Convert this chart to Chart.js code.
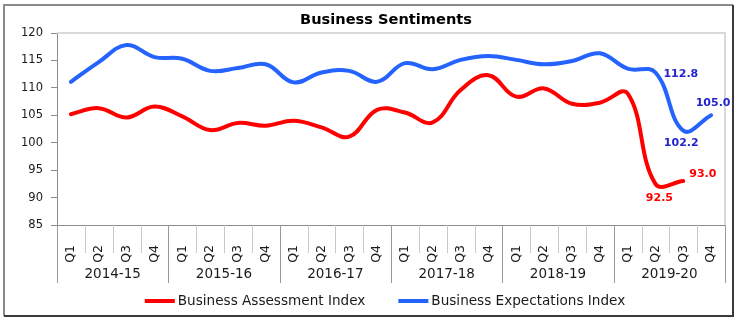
<!DOCTYPE html>
<html>
<head>
<meta charset="utf-8">
<title>Business Sentiments</title>
<script src="https://cdn.jsdelivr.net/npm/chart.js@4.4.1/dist/chart.umd.min.js"></script>
<style>
  body { margin: 0; background: #fff; }
  canvas { display: block; }
</style>
</head>
<body>
<canvas id="myChart" width="738" height="323"></canvas>
<script>
const chartTitle = "Business Sentiments";
const years = ["2014-15", "2015-16", "2016-17", "2017-18", "2018-19", "2019-20"];
const quarters = ["Q1", "Q2", "Q3", "Q4"];

const assessmentIndex = [105.2, 106.3, 104.6, 106.6, 104.8, 102.3, 103.6, 103.1,
  104.0, 102.8, 101.1, 106.0, 105.5, 103.7, 109.6, 112.3,
  108.4, 109.9, 107.1, 107.3, 109.0, 92.5, 93.0, null];
const expectationsIndex = [111.1, 114.7, 117.8, 115.6, 115.3, 113.1, 113.6, 114.3,
  111.0, 112.8, 113.1, 111.1, 114.5, 113.4, 115.1, 115.8,
  115.1, 114.3, 114.9, 116.3, 113.5, 112.8, 102.2, 105.0];

const yTicks = { min: 85, max: 120, step: 5 };

// one tick per quarter, grouped by year underneath
const labels = years.flatMap(() => quarters);

// value labels: dataset -> { point index: [dx, dy, align] }
const valueLabels = [
  { color: "#ff0000", at: { 21: [4, 14, "center"], 22: [6, -7, "left"] } },
  { color: "#2323cf", at: { 21: [8, 2, "left"], 22: [-2, 12, "center"], 23: [2, -12, "center"] } }
];

Chart.defaults.font.family = "'DejaVu Sans', Verdana, sans-serif";
Chart.defaults.color = "#1a1a1a";

const decorations = {
  id: "decorations",
  beforeDraw(chart) {
    const ctx = chart.ctx;
    ctx.save();
    ctx.fillStyle = "#fff";
    ctx.fillRect(0, 0, chart.width, chart.height);
    ctx.restore();
  },
  beforeDatasetsDraw(chart) {
    // light frame on top / right of plot area
    const ctx = chart.ctx, a = chart.chartArea;
    ctx.save();
    ctx.strokeStyle = "#d9d9d9";
    ctx.lineWidth = 2;
    ctx.beginPath();
    ctx.moveTo(a.left, a.top);
    ctx.lineTo(a.right, a.top);
    ctx.lineTo(a.right, a.bottom);
    ctx.stroke();
    ctx.restore();
  },
  afterDatasetsDraw(chart) {
    const ctx = chart.ctx;
    ctx.save();
    ctx.font = "bold 11px 'DejaVu Sans'";
    ctx.textBaseline = "middle";
    valueLabels.forEach((st, d) => {
      const meta = chart.getDatasetMeta(d);
      const values = chart.data.datasets[d].data;
      ctx.fillStyle = st.color;
      Object.keys(st.at).forEach(k => {
        const i = +k, [dx, dy, align] = st.at[k];
        const pt = meta.data[i];
        ctx.textAlign = align;
        ctx.fillText(values[i].toFixed(1), pt.x + dx, pt.y + dy);
      });
    });
    ctx.restore();
  },
  afterDraw(chart) {
    const ctx = chart.ctx, a = chart.chartArea, x = chart.scales.x;
    const step = (x.right - x.left) / labels.length;
    ctx.save();

    // separators under the axis
    ctx.lineWidth = 1;
    for (let i = 0; i <= labels.length; i++) {
      const px = Math.round(x.left + i * step) + 0.5;
      const isYear = i % quarters.length === 0;
      ctx.strokeStyle = isYear ? "#9a9a9a" : "#c8c8c8";
      ctx.beginPath();
      ctx.moveTo(px, a.bottom);
      ctx.lineTo(px, a.bottom + (isYear ? 58 : 28));
      ctx.stroke();
    }

    // year labels
    ctx.fillStyle = "#1a1a1a";
    ctx.font = "13.5px 'DejaVu Sans'";
    ctx.textAlign = "center";
    ctx.textBaseline = "middle";
    years.forEach((yr, g) => {
      const x0 = x.getPixelForValue(g * 4), x1 = x.getPixelForValue(g * 4 + 3);
      ctx.fillText(yr, (x0 + x1) / 2, a.bottom + 49);
    });

    // title
    ctx.font = "bold 14.6px 'DejaVu Sans'";
    ctx.fillStyle = "#000";
    ctx.fillText(chartTitle, 386, 20);

    // legend
    ctx.font = "13.6px 'DejaVu Sans'";
    ctx.textAlign = "left";
    const ds = chart.data.datasets;
    const boxW = 30, gap = 3, spacing = 33, ly = 301;
    const widths = ds.map(d => boxW + gap + ctx.measureText(d.label).width);
    let lx = 385 - (widths[0] + widths[1] + spacing) / 2;
    ds.forEach((d, i) => {
      ctx.fillStyle = d.borderColor;
      ctx.fillRect(lx, ly - 2, boxW, 4);
      ctx.fillStyle = "#1a1a1a";
      ctx.fillText(d.label, lx + boxW + gap, ly);
      lx += widths[i] + spacing;
    });

    // outer frame
    ctx.lineWidth = 2;
    ctx.strokeStyle = "#8a8a8a";
    ctx.beginPath();
    ctx.moveTo(4, 316); ctx.lineTo(4, 5); ctx.lineTo(733, 5);
    ctx.stroke();
    ctx.strokeStyle = "#3a3a3a";
    ctx.beginPath();
    ctx.moveTo(733, 5); ctx.lineTo(733, 316); ctx.lineTo(4, 316);
    ctx.stroke();
    ctx.restore();
  }
};

const ctx = document.getElementById("myChart").getContext("2d");
const chart = new Chart(ctx, {
  type: "line",
  data: {
    labels: labels,
    datasets: [
      {
        label: "Business Assessment Index",
        data: assessmentIndex,
        borderColor: "#ff0000",
        backgroundColor: "#ff0000",
        borderWidth: 4,
        tension: 0.4,
        pointRadius: 0,
        borderCapStyle: "round"
      },
      {
        label: "Business Expectations Index",
        data: expectationsIndex,
        borderColor: "#2563ff",
        backgroundColor: "#2563ff",
        borderWidth: 4,
        tension: 0.4,
        pointRadius: 0,
        borderCapStyle: "round"
      }
    ]
  },
  options: {
    responsive: false,
    animation: false,
    devicePixelRatio: 1,
    layout: { padding: { top: 33, left: 8, right: 13, bottom: 40 } },
    plugins: {
      legend: { display: false },
      title: { display: false },
      tooltip: { enabled: false }
    },
    scales: {
      x: {
        offset: true,
        grid: { display: false, drawTicks: false },
        border: { display: true, color: "#8c8c8c", width: 1 },
        ticks: {
          autoSkip: false,
          minRotation: 90,
          maxRotation: 90,
          padding: 20,
          font: { size: 12.5 }
        },
        afterFit(scale) {
          scale.height = 58;
          scale.paddingLeft = 0;
          scale.paddingRight = 0;
        }
      },
      y: {
        min: yTicks.min,
        max: yTicks.max,
        grid: { drawOnChartArea: false, drawTicks: true, tickLength: 6, color: "#8c8c8c" },
        border: { display: true, color: "#8c8c8c", width: 1 },
        ticks: { stepSize: yTicks.step, padding: 8, font: { size: 11.5 } },
        afterFit(scale) { scale.width = 49; }
      }
    }
  },
  plugins: [decorations]
});
</script>
</body>
</html>
